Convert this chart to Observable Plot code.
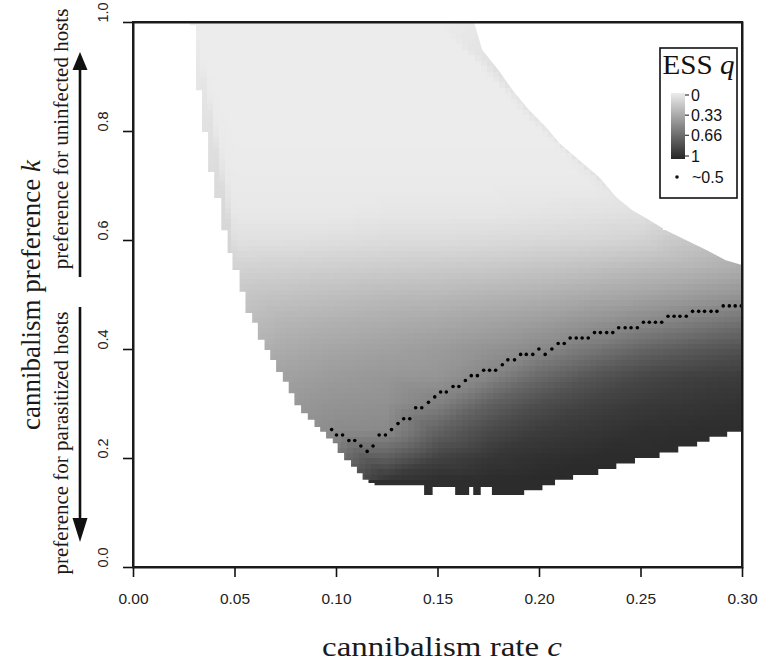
<!DOCTYPE html>
<html>
<head>
<meta charset="utf-8">
<script src="https://cdn.jsdelivr.net/npm/d3@7"></script>
<script src="https://cdn.jsdelivr.net/npm/@observablehq/plot@0.6"></script>
<style>
  body { margin: 0; background: #fff; overflow: hidden; }
  #chart { position: relative; width: 760px; height: 661px; }
  #box { position: absolute; left: 132px; top: 21px; width: 611px; height: 547px;
         box-sizing: border-box; border: 2px solid #1a1a1a; pointer-events: none; }
</style>
</head>
<body>
<div id="chart"></div>
<script>
const xTicks = [0, 0.05, 0.10, 0.15, 0.20, 0.25, 0.30];
const yTicks = [0, 0.2, 0.4, 0.6, 0.8, 1.0];
const legendTicks = [0, 0.33, 0.66, 1];
const gridC = [0.03, 0.05, 0.075, 0.1, 0.125, 0.15, 0.175, 0.2, 0.225, 0.25, 0.275, 0.3];
const gridK = [1.0, 0.9, 0.8, 0.7, 0.65, 0.6, 0.55, 0.5, 0.45, 0.4, 0.35, 0.3, 0.25, 0.2, 0.16];
const gridQ = [
  [0, 0, 0, 0, 0, 0, null, null, null, null, null, null],
  [null, 0, 0, 0, 0, 0, 0, null, null, null, null, null],
  [null, 0, 0, 0, 0, 0, 0, 0, null, null, null, null],
  [null, 0.01, 0.01, 0.01, 0.01, 0.01, 0.01, 0.01, 0.01, null, null, null],
  [null, 0.02, 0.02, 0.02, 0.03, 0.03, 0.03, 0.04, 0.05, 0.06, null, null],
  [null, 0.06, 0.06, 0.07, 0.08, 0.08, 0.09, 0.10, 0.11, 0.13, null, null],
  [null, 0.13, 0.14, 0.15, 0.16, 0.17, 0.18, 0.20, 0.22, 0.25, 0.28, 0.32],
  [null, null, 0.21, 0.23, 0.25, 0.26, 0.28, 0.30, 0.33, 0.36, 0.40, 0.44],
  [null, null, 0.28, 0.30, 0.32, 0.34, 0.37, 0.40, 0.45, 0.50, 0.56, 0.62],
  [null, null, 0.33, 0.36, 0.38, 0.41, 0.45, 0.50, 0.59, 0.68, 0.74, 0.78],
  [null, null, 0.38, 0.41, 0.43, 0.44, 0.52, 0.66, 0.76, 0.83, 0.87, 0.89],
  [null, null, null, 0.45, 0.46, 0.54, 0.70, 0.80, 0.86, 0.90, 0.92, 0.94],
  [null, null, null, 0.49, 0.50, 0.70, 0.82, 0.89, 0.92, 0.95, 0.96, 0.96],
  [null, null, null, null, 0.72, 0.86, 0.92, 0.95, 0.97, 0.97, null, null],
  [null, null, null, null, 0.92, 0.96, 0.97, 0.98, null, null, null, null]
];
const leftK = [1.000, 0.994, 0.875, 0.798, 0.725, 0.677, 0.618, 0.576, 0.545, 0.505, 0.466, 0.448, 0.417, 0.398, 0.380, 0.358, 0.340, 0.319, 0.297, 0.282, 0.270, 0.257, 0.248, 0.236, 0.227, 0.209, 0.196, 0.184, 0.172, 0.160, 0.154, 0.000];
const leftC = [0.028, 0.031, 0.034, 0.037, 0.040, 0.0435, 0.0466, 0.049, 0.0525, 0.0554, 0.0587, 0.0615, 0.0648, 0.0676, 0.0705, 0.0738, 0.0767, 0.0795, 0.0828, 0.0861, 0.0894, 0.0922, 0.0951, 0.0984, 0.1008, 0.104, 0.1074, 0.1103, 0.1131, 0.116, 0.119, 0.119];
const rightK = [1.000, 0.949, 0.912, 0.875, 0.839, 0.807, 0.778, 0.747, 0.716, 0.679, 0.655, 0.637, 0.618, 0.600, 0.582, 0.563, 0.554];
const rightC = [0.168, 0.172, 0.180, 0.187, 0.195, 0.2035, 0.210, 0.2197, 0.2295, 0.238, 0.2458, 0.2541, 0.2625, 0.2723, 0.2822, 0.292, 0.300];
const bottomC = [0.10, 0.1434, 0.1476, 0.1587, 0.1656, 0.1676, 0.1713, 0.1768, 0.1927, 0.2017, 0.2079, 0.2168, 0.2292, 0.2381, 0.2473, 0.2594, 0.2686, 0.2779, 0.284, 0.2927, 0.300];
const bottomK = [0.150, 0.132, 0.147, 0.132, 0.147, 0.132, 0.147, 0.132, 0.141, 0.150, 0.160, 0.169, 0.180, 0.190, 0.200, 0.210, 0.221, 0.230, 0.239, 0.248, 0.248];
const dotC = [0.0976,0.1000,0.1030,0.1061,0.1090,0.1120,0.1151,0.1180,0.1210,0.1241,0.1271,0.1303,0.1331,0.1361,0.1390,0.1420,0.1453,0.1484,0.1513,0.1541,0.1574,0.1603,0.1635,0.1664,0.1694,0.1725,0.1754,0.1784,0.1817,0.1844,0.1877,0.1907,0.1935,0.1967,0.1997,0.2028,0.2061,0.2092,0.2122,0.2151,0.2181,0.2210,0.2240,0.2271,0.2300,0.2331,0.2361,0.2390,0.2422,0.2451,0.2482,0.2512,0.2541,0.2571,0.2602,0.2633,0.2663,0.2692,0.2723,0.2754,0.2784,0.2813,0.2845,0.2874,0.2905,0.2935,0.2964,0.2994];
const dotK = [0.253,0.243,0.243,0.233,0.233,0.223,0.213,0.223,0.243,0.243,0.253,0.264,0.273,0.273,0.293,0.293,0.303,0.313,0.322,0.322,0.332,0.332,0.343,0.352,0.352,0.362,0.362,0.362,0.372,0.381,0.381,0.391,0.391,0.391,0.401,0.391,0.401,0.411,0.411,0.421,0.421,0.421,0.421,0.431,0.431,0.431,0.431,0.440,0.440,0.440,0.440,0.450,0.450,0.450,0.450,0.461,0.461,0.461,0.461,0.470,0.470,0.470,0.470,0.470,0.480,0.480,0.480,0.480];

const samples = [];
gridK.forEach((k, i) => gridC.forEach((c, j) => {
  const q = gridQ[i][j];
  if (q != null) samples.push({c, k, q});
}));
const leftEdge = leftK.map((k, i) => ({k, c: leftC[i]}));
const rightEdge = rightK.map((k, i) => ({k, c: rightC[i]}));
const bottomEdge = bottomC.map((c, i) => ({c, k: bottomK[i]}));
const dots = dotC.map((c, i) => ({c, k: dotK[i]}));

const colorOpts = {type: "linear", domain: [0, 1], range: ["#ececec", "#262626"]};
const colorScale = Plot.scale({color: colorOpts});

const SANS = "'Liberation Sans', Arial, Helvetica, sans-serif";
const SERIF = "'Liberation Serif', 'Times New Roman', Times, serif";

const plot = Plot.plot({
  width: 760, height: 661,
  marginLeft: 133, marginRight: 18, marginTop: 22, marginBottom: 94,
  x: {domain: [0, 0.3], label: null},
  y: {domain: [0, 1], label: null},
  color: colorOpts,
  style: {fontFamily: SANS, fontSize: "15px", background: "white", color: "#111"},
  marks: [
    Plot.raster(samples, {
      x: "c", y: "k", fill: "q",
      x1: 0, x2: 0.3, y1: 0, y2: 1,
      width: 100, height: 100,
      interpolate: "barycentric",
      imageRendering: "pixelated"
    }),
    Plot.areaX(leftEdge, {y: "k", x1: 0, x2: "c", curve: "step-before", fill: "white"}),
    Plot.areaX(rightEdge, {y: "k", x1: "c", x2: 0.3, fill: "white"}),
    Plot.areaY(bottomEdge, {x: "c", y1: 0, y2: "k", curve: "step-after", fill: "white"}),
    Plot.dot(dots, {x: "c", y: "k", r: 1.8, fill: "black", stroke: null}),
    Plot.frame({stroke: "#1a1a1a", strokeWidth: 2, fill: "none"}),
    Plot.axisX({ticks: xTicks, tickSize: 10, tickPadding: 15, tickFormat: d3.format(".2f"),
                fontSize: 15.5, strokeWidth: 1.6, label: null, fill: "#222"}),
    Plot.axisY({ticks: yTicks, tickSize: 10, tickFormat: () => "", strokeWidth: 1.6, label: null}),
    Plot.text(yTicks, {y: d => d, text: d => d.toFixed(1), frameAnchor: "left", dx: -30,
                       rotate: -90, fontSize: 14.5, fill: "#222"})
  ]
});

const chart = document.getElementById("chart");
chart.appendChild(plot);
const boxDiv = document.createElement("div");
boxDiv.id = "box";
chart.appendChild(boxDiv);

const svg = d3.select(plot);
const deco = svg.append("g").attr("text-anchor", "start");

const xt = deco.append("text")
  .attr("x", 442).attr("y", 656).attr("text-anchor", "middle")
  .attr("textLength", 240).attr("lengthAdjust", "spacingAndGlyphs")
  .style("font-family", SERIF).style("font-size", "28px").attr("fill", "#1a1a1a");
xt.append("tspan").text("cannibalism rate ");
xt.append("tspan").style("font-style", "italic").text("c");

const yt = deco.append("text")
  .attr("transform", "translate(40,295) rotate(-90)").attr("text-anchor", "middle")
  .style("font-family", SERIF).style("font-size", "27px").attr("fill", "#1a1a1a");
yt.append("tspan").text("cannibalism preference ");
yt.append("tspan").style("font-style", "italic").text("k");

deco.append("text")
  .attr("transform", "translate(68,139) rotate(-90)").attr("text-anchor", "middle")
  .style("font-family", SERIF).style("font-size", "21px").attr("fill", "#1a1a1a")
  .text("preference for uninfected hosts");
deco.append("text")
  .attr("transform", "translate(68,443) rotate(-90)").attr("text-anchor", "middle")
  .style("font-family", SERIF).style("font-size", "21px").attr("fill", "#1a1a1a")
  .text("preference for parasitized hosts");

deco.append("line").attr("x1", 80).attr("x2", 80).attr("y1", 277).attr("y2", 68)
  .attr("stroke", "#111").attr("stroke-width", 2.6);
deco.append("polygon").attr("points", "72.5,70 87.5,70 80,52").attr("fill", "#111");
deco.append("line").attr("x1", 80).attr("x2", 80).attr("y1", 307).attr("y2", 520)
  .attr("stroke", "#111").attr("stroke-width", 2.6);
deco.append("polygon").attr("points", "72.5,518 87.5,518 80,542").attr("fill", "#111");

const lg = deco.append("g");
lg.append("rect").attr("x", 660).attr("y", 48).attr("width", 77).attr("height", 150)
  .attr("fill", "white").attr("stroke", "#111").attr("stroke-width", 1.6);
const lt = lg.append("text").attr("x", 698.5).attr("y", 74).attr("text-anchor", "middle")
  .attr("textLength", 72).attr("lengthAdjust", "spacingAndGlyphs")
  .style("font-family", SERIF).style("font-size", "27px").attr("fill", "#111");
lt.append("tspan").text("ESS ");
lt.append("tspan").style("font-style", "italic").text("q");

const defs = svg.append("defs");
const grad = defs.append("linearGradient").attr("id", "essGrad")
  .attr("x1", 0).attr("y1", 0).attr("x2", 0).attr("y2", 1);
d3.range(0, 1.0001, 0.1).forEach(t =>
  grad.append("stop").attr("offset", t).attr("stop-color", colorScale.apply(t)));
const barTop = 95, barSpan = 61;
lg.append("rect").attr("x", 671).attr("y", barTop - 2).attr("width", 14).attr("height", barSpan + 5)
  .attr("fill", "url(#essGrad)");
legendTicks.forEach(t => {
  const y = barTop + t * barSpan;
  lg.append("line").attr("x1", 685).attr("x2", 689).attr("y1", y).attr("y2", y)
    .attr("stroke", "#111").attr("stroke-width", 1);
  lg.append("text").attr("x", 691).attr("y", y).attr("dy", "0.36em").attr("text-anchor", "start")
    .style("font-family", SANS).style("font-size", "16px").attr("fill", "#111")
    .text(String(t));
});
lg.append("circle").attr("cx", 677).attr("cy", 177).attr("r", 1.8).attr("fill", "#111");
lg.append("text").attr("x", 692).attr("y", 177).attr("dy", "0.36em").attr("text-anchor", "start")
  .style("font-family", SANS).style("font-size", "16px").attr("fill", "#111")
  .text("~0.5");
</script>
</body>
</html>
